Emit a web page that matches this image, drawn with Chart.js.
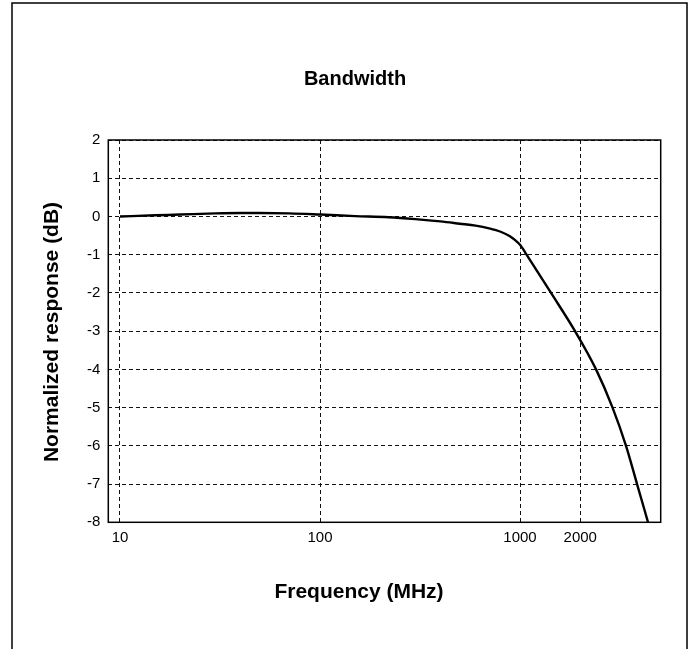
<!DOCTYPE html>
<html>
<head>
<meta charset="utf-8">
<script src="https://cdn.jsdelivr.net/npm/chart.js@4.4.0/dist/chart.umd.min.js"></script>
<style>
  html, body { margin: 0; padding: 0; background: #fff; }
  #wrap { width: 690px; height: 649px; position: relative; }
</style>
</head>
<body>
<div id="wrap"><canvas id="c" width="690" height="649"></canvas></div>
<script>
// ---- data ----
const freqMHz = [10, 15, 20, 30, 40, 50, 70, 100, 150, 220, 300, 400, 500, 600, 700, 800, 890, 945, 1000, 1078, 1429, 1884, 2399, 2901, 3388, 3846, 4365];
const responseDb = [0, 0.03, 0.05, 0.08, 0.09, 0.09, 0.08, 0.05, 0.01, -0.02, -0.07, -0.13, -0.19, -0.24, -0.31, -0.4, -0.52, -0.62, -0.74, -1.0, -2.0, -3.0, -4.0, -5.0, -6.0, -7.0, -8.0];
const xTickValues = [10, 100, 1000, 2000];
const yTickValues = [2, 1, 0, -1, -2, -3, -4, -5, -6, -7, -8];
const chartTitle = 'Bandwidth';
const xAxisTitle = 'Frequency (MHz)';
const yAxisTitle = 'Normalized response (dB)';

const FONT = '"Liberation Sans", Arial, Helvetica, sans-serif';

const framePlugin = {
  id: 'framePlugin',
  afterDraw(chart) {
    const ctx = chart.ctx;
    const a = chart.chartArea;
    ctx.save();
    ctx.strokeStyle = '#000';
    ctx.lineWidth = 1.5;
    ctx.setLineDash([]);
    ctx.strokeRect(a.left, a.top, a.right - a.left, a.bottom - a.top);
    ctx.beginPath();
    ctx.moveTo(12, 649);
    ctx.lineTo(12, 3);
    ctx.lineTo(687, 3);
    ctx.lineTo(687, 649);
    ctx.stroke();
    ctx.fillStyle = '#000';
    ctx.textAlign = 'center';
    ctx.textBaseline = 'middle';
    ctx.font = 'bold 20px ' + FONT;
    ctx.fillText(chartTitle, 355, 79);
    ctx.font = 'bold 21px ' + FONT;
    ctx.fillText(xAxisTitle, 359, 592);
    ctx.translate(52, 332);
    ctx.rotate(-Math.PI / 2);
    ctx.fillText(yAxisTitle, 0, 0);
    ctx.restore();
  }
};

new Chart(document.getElementById('c'), {
  type: 'line',
  data: {
    datasets: [{
      data: freqMHz.map((f, i) => ({ x: f, y: responseDb[i] })),
      borderColor: '#000',
      borderWidth: 2.4,
      pointRadius: 0,
      fill: false,
      cubicInterpolationMode: 'monotone'
    }]
  },
  options: {
    responsive: false,
    animation: false,
    devicePixelRatio: 1,
    layout: { padding: { left: 0, top: 140, right: 29.3, bottom: 0 } },
    plugins: { legend: { display: false }, tooltip: { enabled: false }, title: { display: false } },
    scales: {
      x: {
        type: 'logarithmic',
        min: 8.74,
        max: 5050,
        afterBuildTicks: (s) => { s.ticks = xTickValues.map(v => ({ value: v })); },
        afterFit: (s) => { s.height = 649 - 522.3; },
        ticks: {
          color: '#000',
          font: { family: FONT, size: 15 },
          padding: 7,
          maxRotation: 0,
          autoSkip: false,
          callback: (v) => String(v)
        },
        grid: { color: '#111', lineWidth: 1, drawTicks: false },
        border: { display: false, dash: [4, 3] }
      },
      y: {
        type: 'linear',
        min: -8,
        max: 2,
        afterBuildTicks: (s) => { s.ticks = yTickValues.map(v => ({ value: v })); },
        afterFit: (s) => { s.width = 108.3; },
        ticks: {
          color: '#000',
          font: { family: FONT, size: 15 },
          padding: 8,
          callback: (v) => String(v)
        },
        grid: { color: '#111', lineWidth: 1, drawTicks: false },
        border: { display: false, dash: [4, 3] }
      }
    }
  },
  plugins: [framePlugin]
});
</script>
</body>
</html>
